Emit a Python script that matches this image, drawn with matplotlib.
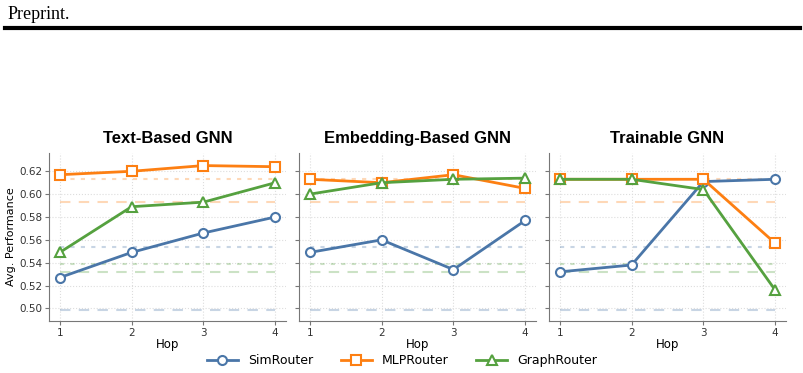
import matplotlib
matplotlib.use("Agg")
import matplotlib.pyplot as plt

hops = [1, 2, 3, 4]
panels = ["Text-Based GNN", "Embedding-Based GNN", "Trainable GNN"]

sim_router = [
    [0.527, 0.549, 0.566, 0.580],
    [0.549, 0.560, 0.534, 0.577],
    [0.532, 0.538, 0.611, 0.613],
]
mlp_router = [
    [0.617, 0.620, 0.625, 0.624],
    [0.613, 0.610, 0.617, 0.605],
    [0.613, 0.613, 0.613, 0.557],
]
graph_router = [
    [0.549, 0.589, 0.593, 0.610],
    [0.600, 0.610, 0.613, 0.614],
    [0.613, 0.613, 0.604, 0.516],
]

# reference levels (dotted / dashed) per router
base_dotted = {"SimRouter": 0.554, "MLPRouter": 0.613, "GraphRouter": 0.539}
base_dashed = {"SimRouter": 0.499, "MLPRouter": 0.593, "GraphRouter": 0.532}

colors = {"SimRouter": "#4a76a8", "MLPRouter": "#fd7f12", "GraphRouter": "#55a13f"}
markers = {"SimRouter": "o", "MLPRouter": "s", "GraphRouter": "^"}

fig = plt.figure(figsize=(8.04, 3.73), dpi=100)

# page header
fig.text(0.009, 0.962, "Preprint.", fontsize=13, family="Liberation Serif",
         va="center", ha="left")
fig.add_artist(plt.Line2D([0.006, 0.995], [0.925, 0.925], color="black", lw=3,
                          transform=fig.transFigure))

lefts = [49, 299, 549]
series = {"SimRouter": sim_router, "MLPRouter": mlp_router, "GraphRouter": graph_router}

for k, title in enumerate(panels):
    ax = fig.add_axes([lefts[k] / 804, 52 / 373, 237 / 804, 168 / 373])
    for name in ["SimRouter", "MLPRouter", "GraphRouter"]:
        c = colors[name]
        ax.hlines(base_dotted[name], 1, 4, colors=c, alpha=0.3, lw=1.5,
                  linestyles=(0, (2, 3)))
        ax.hlines(base_dashed[name], 1, 4, colors=c, alpha=0.3, lw=1.5,
                  linestyles=(0, (5, 4)))
    for name in ["SimRouter", "MLPRouter", "GraphRouter"]:
        ax.plot(hops, series[name][k], color=colors[name], marker=markers[name],
                markerfacecolor="white", markeredgecolor=colors[name],
                markeredgewidth=1.5, markersize=6.5, lw=2, label=name)
    ax.set_xlim(0.85, 4.15)
    ax.set_ylim(0.489, 0.636)
    ax.set_xticks(hops)
    ax.set_yticks([0.50, 0.52, 0.54, 0.56, 0.58, 0.60, 0.62])
    ax.grid(True, color="#dddddd", linestyle=":", lw=0.8)
    ax.set_axisbelow(True)
    for s in ["top", "right"]:
        ax.spines[s].set_visible(False)
    for s in ["left", "bottom"]:
        ax.spines[s].set_color("#777777")
    ax.tick_params(colors="#777777", labelcolor="#333333", labelsize=7.5, length=3, pad=2)
    ax.set_xlabel("Hop", fontsize=8.5, labelpad=0)
    ax.set_title(title, fontsize=12, fontweight="bold", family="Liberation Sans", pad=7)
    if k == 0:
        ax.set_ylabel("Avg. Performance", fontsize=8, labelpad=2)
        handles, labels = ax.get_legend_handles_labels()
    else:
        ax.set_yticklabels([])

fig.legend(handles, labels, loc="lower center", bbox_to_anchor=(0.5, -0.015), ncol=3,
           frameon=False, fontsize=9, columnspacing=2.2, handlelength=2.5)

fig.savefig("out.png", dpi=100)
